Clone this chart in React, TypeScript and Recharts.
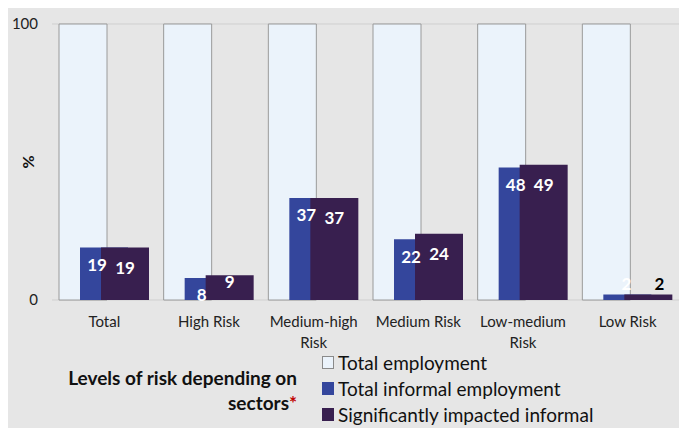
import React from 'react';
import { BarChart, Bar, XAxis, YAxis, CartesianGrid, Legend, LabelList } from 'recharts';

const categories = ['Total', 'High Risk', 'Medium-high\nRisk', 'Medium Risk', 'Low-medium\nRisk', 'Low Risk'];
const totalEmployment = [100, 100, 100, 100, 100, 100];
const informalEmployment = [19, 8, 37, 22, 48, 2];
const impactedInformal = [19, 9, 37, 24, 49, 2];
const yTicks = [0, 100];

const seriesNames = ['Total employment', 'Total informal employment', 'Significantly impacted informal'];
const LIGHT = '#ebf3fb';
const BLUE = '#34469c';
const PURPLE = '#381f4f';
const FONT = 'Lato, "Open Sans", sans-serif';

const data = categories.map((c, i) => ({
    name: c,
    total: totalEmployment[i],
    informal: informalEmployment[i],
    impacted: impactedInformal[i],
}));

// x tick with manual line breaks
const CategoryTick = (props: any) => {
    const { x, y, payload } = props;
    const lines = String(payload.value).split('\n');
    return (
        <text x={x} y={y} textAnchor="middle" fontSize={15} fill="#222" fontFamily={FONT}>
            {lines.map((l, i) => (
                <tspan key={i} x={x} dy={i === 0 ? 27 : 21}>{l}</tspan>
            ))}
        </text>
    );
};

const informalLabel = (p: any) => {
    const { x, y, height, value } = p;
    const small = height < 12;
    return (
        <text x={x + (small ? 23 : 17)} y={small ? y - 11 : y + Math.min(17, height - 6)}
            fill="#fff" textAnchor="middle" dominantBaseline="central"
            fontSize={17} fontWeight="bold" fontFamily={FONT}>
            {value}
        </text>
    );
};

const impactedLabel = (p: any) => {
    const { x, y, width, height, value } = p;
    const small = height < 12;
    return (
        <text x={small ? x + 35 : x + width / 2} y={small ? y - 11 : y + (height < 30 ? 6 : 20)}
            fill={small ? '#000' : '#fff'} textAnchor="middle" dominantBaseline="central"
            fontSize={17} fontWeight="bold" fontFamily={FONT}>
            {value}
        </text>
    );
};

const renderLegend = () => {
    const swatches = [
        { fill: LIGHT, stroke: '#8a8a8a' },
        { fill: BLUE, stroke: BLUE },
        { fill: PURPLE, stroke: PURPLE },
    ];
    return (
        <div style={{ position: 'relative', width: 679, height: 80, fontFamily: FONT, color: '#111' }}>
            <div style={{ position: 'absolute', right: 679 - 289, top: 17, textAlign: 'right', fontWeight: 'bold', fontSize: 19, lineHeight: '25px', whiteSpace: 'nowrap' }}>
                Levels of risk depending on<br />
                sectors<span style={{ color: '#c00000' }}>*</span>
            </div>
            {seriesNames.map((n, i) => (
                <div key={n} style={{ position: 'absolute', left: 314, top: 1 + i * 26, height: 26, display: 'flex', alignItems: 'center', fontSize: 19, whiteSpace: 'nowrap' }}>
                    <span style={{ display: 'inline-block', width: 12, height: 13, background: swatches[i].fill, border: `1px solid ${swatches[i].stroke}`, marginRight: 4, boxSizing: 'border-box' }} />
                    {n}
                </div>
            ))}
        </div>
    );
};

export default function App() {
    return (
        <div style={{ width: 680, height: 424, marginLeft: -1, marginTop: -1, border: '1px solid #8c8c8c', background: '#e6e6e6', boxSizing: 'border-box', position: 'relative' }}>
            <BarChart width={678} height={422} data={data} barSize={48} barGap={-27}
                margin={{ top: 16, right: 6, left: 0, bottom: 80 }}>
                <CartesianGrid horizontal vertical={false} stroke="#cfcfcf" />
                <XAxis dataKey="name" axisLine={false} tickLine={false} tickSize={0} tickMargin={0}
                    interval={0} height={50} tick={<CategoryTick />} />
                <YAxis domain={[0, 100]} ticks={yTicks} axisLine={false} tickLine={false} width={44}
                    tickSize={0} tickMargin={14}
                    tick={{ fontSize: 15, fill: '#222', fontFamily: FONT }}
                    label={{ value: '%', angle: -90, position: 'insideLeft', dx: 15, style: { textAnchor: 'middle', fontSize: 16, fontWeight: 'bold', fill: '#111', fontFamily: FONT } }} />
                <Legend layout="vertical" align="center" verticalAlign="middle" content={renderLegend}
                    wrapperStyle={{ left: 0, top: 340, width: 679, height: 80 }} />
                <Bar dataKey="total" name={seriesNames[0]} fill={LIGHT} stroke="#9a9a9a" strokeWidth={1} isAnimationActive={false} />
                <Bar dataKey="informal" name={seriesNames[1]} fill={BLUE} isAnimationActive={false}>
                    <LabelList dataKey="informal" content={informalLabel} />
                </Bar>
                <Bar dataKey="impacted" name={seriesNames[2]} fill={PURPLE} isAnimationActive={false}>
                    <LabelList dataKey="impacted" content={impactedLabel} />
                </Bar>
            </BarChart>
        </div>
    );
}
